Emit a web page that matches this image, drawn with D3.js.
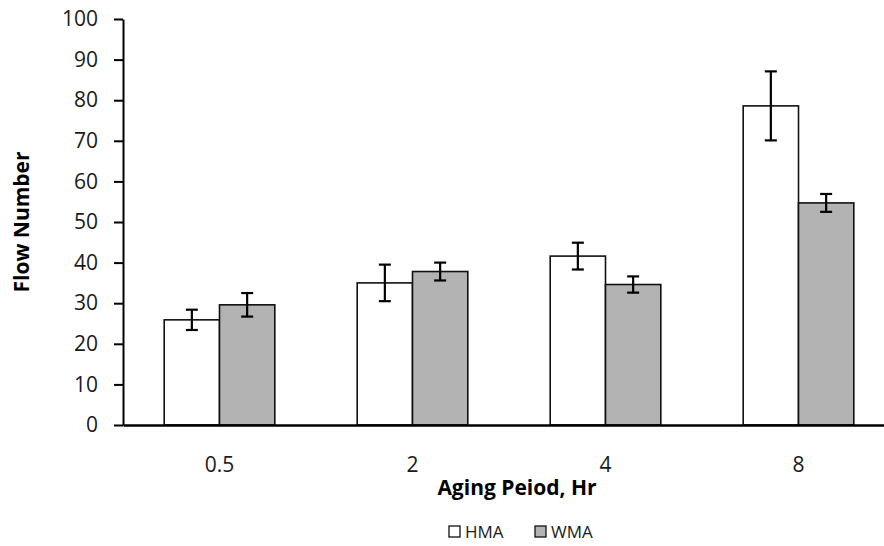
<!DOCTYPE html>
<html>
<head>
<meta charset="utf-8">
<script src="https://cdn.jsdelivr.net/npm/d3@7"></script>
<style>
  body { margin: 0; background: #fff; }
  svg { display: block; font-family: "Open Sans", sans-serif; }
</style>
</head>
<body>
<svg id="chart" width="884" height="546"></svg>
<script>
// aging periods (hr) and flow numbers
const periods = ['0.5', '2', '4', '8'];
const seriesNames = ['HMA', 'WMA'];
const hmaValues = [25.9, 35.0, 41.6, 78.6];
const hmaErrors = [2.5, 4.5, 3.3, 8.5];
const wmaValues = [29.6, 37.8, 34.6, 54.7];
const wmaErrors = [2.9, 2.2, 2.0, 2.2];
const yTicks = [0, 10, 20, 30, 40, 50, 60, 70, 80, 90, 100];

const colors = { HMA: '#ffffff', WMA: '#b3b3b3' };

const svg = d3.select('#chart');

const plotLeft = 123, plotRight = 895, plotTop = 19, plotBottom = 425;

const x0 = d3.scaleBand()
    .domain(periods)
    .range([plotLeft, plotRight])
    .padding(0);

const x1 = d3.scaleBand()
    .domain(seriesNames)
    .range([0, x0.bandwidth()])
    .paddingOuter(0.745)
    .paddingInner(0);

const y = d3.scaleLinear()
    .domain([0, 100])
    .range([plotBottom, plotTop]);

// rows for bars
const rows = [];
periods.forEach((p, i) => {
    rows.push({ period: p, series: 'HMA', value: hmaValues[i], err: hmaErrors[i] });
    rows.push({ period: p, series: 'WMA', value: wmaValues[i], err: wmaErrors[i] });
});

// y axis
const yAxis = svg.append('g')
    .attr('transform', `translate(${plotLeft},0)`)
    .call(d3.axisLeft(y).tickValues(yTicks).tickSize(9).tickSizeOuter(0).tickPadding(16));
yAxis.select('.domain').attr('stroke', '#000').attr('stroke-width', 2);
yAxis.selectAll('.tick line').attr('stroke', '#000').attr('stroke-width', 2);
yAxis.selectAll('.tick text')
    .attr('font-size', 21)
    .attr('fill', '#1a1a1a')
    .attr('font-family', '"Open Sans", sans-serif');

// bars
svg.append('g')
    .selectAll('rect')
    .data(rows)
    .join('rect')
    .attr('x', d => x0(d.period) + x1(d.series))
    .attr('y', d => y(d.value))
    .attr('width', x1.bandwidth())
    .attr('height', d => y(0) - y(d.value))
    .attr('fill', d => colors[d.series])
    .attr('stroke', '#111')
    .attr('stroke-width', 1.6);

// error bars
const capHalf = 6;
const errG = svg.append('g')
    .attr('stroke', '#000')
    .attr('stroke-width', 2.2);
rows.forEach(d => {
    const cx = x0(d.period) + x1(d.series) + x1.bandwidth() / 2;
    const yHi = y(d.value + d.err), yLo = y(d.value - d.err);
    errG.append('line').attr('x1', cx).attr('x2', cx).attr('y1', yHi).attr('y2', yLo);
    errG.append('line').attr('x1', cx - capHalf).attr('x2', cx + capHalf).attr('y1', yHi).attr('y2', yHi);
    errG.append('line').attr('x1', cx - capHalf).attr('x2', cx + capHalf).attr('y1', yLo).attr('y2', yLo);
});

// x axis
const xAxis = svg.append('g')
    .attr('transform', `translate(0,${plotBottom})`)
    .call(d3.axisBottom(x0).tickSize(0).tickPadding(32));
xAxis.select('.domain').attr('stroke', '#000').attr('stroke-width', 2.4);
xAxis.selectAll('.tick text')
    .attr('font-size', 21)
    .attr('fill', '#1a1a1a')
    .attr('font-family', '"Open Sans", sans-serif');

// axis titles
svg.append('text')
    .attr('transform', 'translate(29,222) rotate(-90)')
    .attr('text-anchor', 'middle')
    .attr('font-size', 21)
    .attr('font-weight', 'bold')
    .attr('fill', '#000')
    .text('Flow Number');

svg.append('text')
    .attr('x', 517)
    .attr('y', 495)
    .attr('text-anchor', 'middle')
    .attr('font-size', 21)
    .attr('font-weight', 'bold')
    .attr('fill', '#000')
    .text('Aging Peiod, Hr');

// legend
const legendX = [449, 535];
const legend = svg.append('g');
seriesNames.forEach((s, i) => {
    legend.append('rect')
        .attr('x', legendX[i])
        .attr('y', 526)
        .attr('width', 11)
        .attr('height', 11)
        .attr('fill', colors[s])
        .attr('stroke', '#111')
        .attr('stroke-width', 1.3);
    legend.append('text')
        .attr('x', legendX[i] + 16)
        .attr('y', 538)
        .attr('font-size', 17)
        .attr('fill', '#1a1a1a')
        .text(s);
});
</script>
</body>
</html>
